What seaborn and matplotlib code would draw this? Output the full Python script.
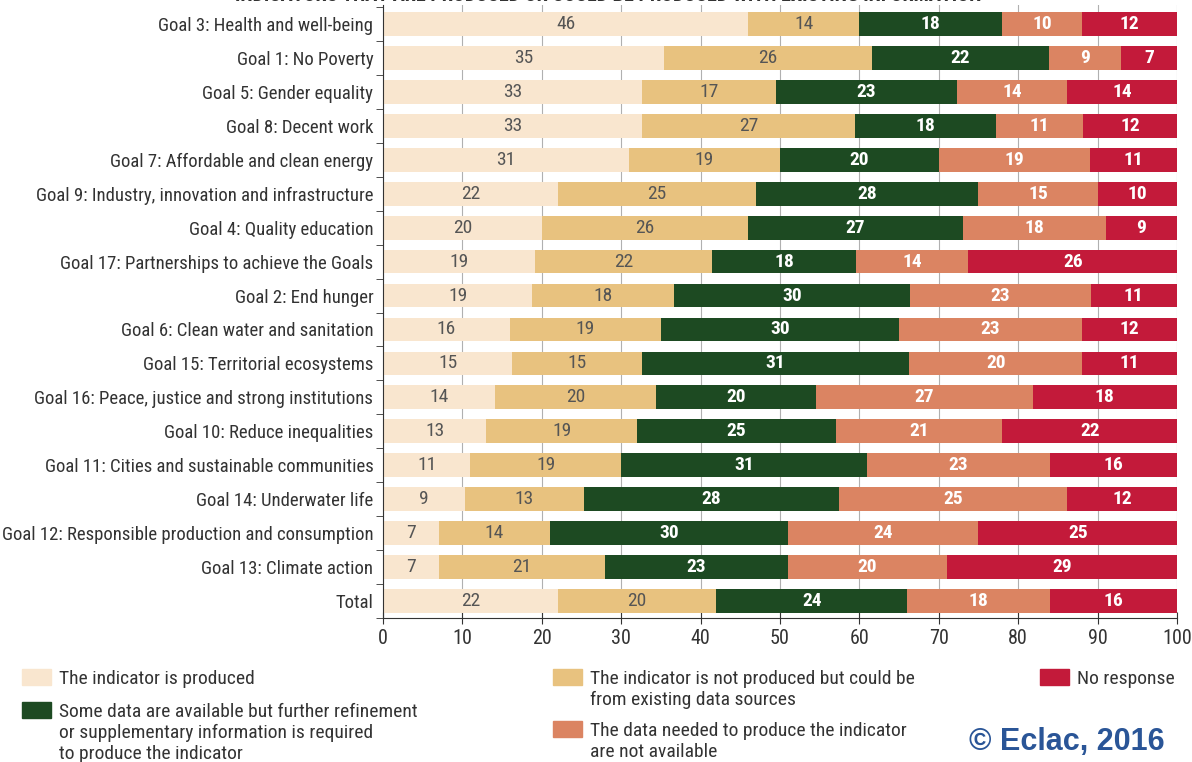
import numpy as np
import pandas as pd
import matplotlib.pyplot as plt
import seaborn as sns
from matplotlib import font_manager as fm

goals = [
    'Goal 3: Health and well-being',
    'Goal 1: No Poverty',
    'Goal 5: Gender equality',
    'Goal 8: Decent work',
    'Goal 7: Affordable and clean energy',
    'Goal 9: Industry, innovation and infrastructure',
    'Goal 4: Quality education',
    'Goal 17: Partnerships to achieve the Goals',
    'Goal 2: End hunger',
    'Goal 6: Clean water and sanitation',
    'Goal 15: Territorial ecosystems',
    'Goal 16: Peace, justice and strong institutions',
    'Goal 10: Reduce inequalities',
    'Goal 11: Cities and sustainable communities',
    'Goal 14: Underwater life',
    'Goal 12: Responsible production and consumption',
    'Goal 13: Climate action',
    'Total',
]
produced = [46, 35, 33, 33, 31, 22, 20, 19, 19, 16, 15, 14, 13, 11, 9, 7, 7, 22]
could_be = [14, 26, 17, 27, 19, 25, 26, 22, 18, 19, 15, 20, 19, 19, 13, 14, 21, 20]
some_data = [18, 22, 23, 18, 20, 28, 27, 18, 30, 30, 31, 20, 25, 31, 28, 30, 23, 24]
not_avail = [10, 9, 14, 11, 19, 15, 18, 14, 23, 23, 20, 27, 21, 23, 25, 24, 20, 18]
no_resp = [12, 7, 14, 12, 11, 10, 9, 26, 11, 12, 11, 18, 22, 16, 12, 25, 29, 16]

series = ['The indicator is produced',
          'The indicator is not produced but could be\nfrom existing data sources',
          'Some data are available but further refinement\nor supplementary information is required\nto produce the indicator',
          'The data needed to produce the indicator\nare not available',
          'No response']
# stacking order left to right
stack = [produced, could_be, some_data, not_avail, no_resp]
colors = ['#f9e6cf', '#e8c27f', '#1d4a22', '#db8462', '#c31a3a']
text_colors = ['#555555', '#555555', 'white', 'white', 'white']

# condensed face if there is one, else plain DejaVu a bit smaller
available = {f.name for f in fm.fontManager.ttflist}
narrow = None
for cand in ['Roboto Condensed', 'Liberation Sans Narrow', 'Archivo Narrow']:
    if cand in available:
        narrow = cand
        break
if narrow:
    plt.rcParams['font.family'] = [narrow, 'DejaVu Sans']
    fs = 13.5
else:
    plt.rcParams['font.family'] = ['DejaVu Sans']
    fs = 10.5

df = pd.DataFrame(np.array(stack).T, index=goals)
pct = df.div(df.sum(axis=1), axis=0) * 100
cum = pct.cumsum(axis=1)

W, H = 1192, 762
fig = plt.figure(figsize=(W / 100, H / 100), dpi=100)
ax = fig.add_axes([0.3213, 0.189, 0.6661, 0.804])

# draw from the longest cumulative layer to the shortest so each one overlays
for k in range(4, -1, -1):
    sns.barplot(x=cum[k].values, y=goals, orient='h', color=colors[k],
                width=0.7, ax=ax, zorder=2, saturation=1)

for i, g in enumerate(goals):
    for k in range(5):
        left = cum[k].iloc[i] - pct[k].iloc[i]
        mid = left + pct[k].iloc[i] / 2
        ax.text(mid, i, str(df[k].iloc[i]), ha='center', va='center',
                color=text_colors[k], fontsize=fs + 0.5,
                fontweight='bold' if k >= 2 else 'normal', zorder=3)

ax.set_xlim(0, 100)
ax.set_ylim(len(goals) - 0.56, -0.55)
ax.set_xticks(range(0, 101, 10))
ax.set_xlabel('')
ax.set_ylabel('')
ax.grid(axis='x', color='#b0b0b0', lw=0.8, zorder=0)
ax.set_axisbelow(True)
for s in ['top', 'right']:
    ax.spines[s].set_visible(False)
ax.spines['left'].set_color('#333333')
ax.spines['bottom'].set_color('#333333')
ax.tick_params(axis='x', direction='inout', length=8, labelsize=fs + 1, colors='#333333', pad=4)
ax.tick_params(axis='y', length=0, labelsize=fs, labelcolor='#333333', pad=7)
ax.set_yticks(np.arange(len(goals) + 1) - 0.5, minor=True)
ax.tick_params(axis='y', which='minor', direction='out', length=5, color='#333333')

# legend laid out by hand: patch next to the first line of each label
leg_pos = [(22, 677), (553, 677), (22, 710), (553, 729), (1040, 677)]
for (px, py), lab, col in zip(leg_pos, series, colors):
    fig.patches.append(plt.Rectangle((px / W, 1 - (py + 8) / H), 29 / W, 16 / H,
                                     color=col, transform=fig.transFigure))
    fig.text((px + 37) / W, 1 - (py - 7) / H, lab, ha='left', va='top',
             fontsize=fs + 0.5, color='#333333', linespacing=1.22)

fig.text(0.51, 1.006, 'INDICATORS THAT ARE PRODUCED OR COULD BE PRODUCED WITH EXISTING INFORMATION',
         ha='center', va='center', fontsize=fs + 1, fontweight='bold', color='#333333')
fig.text(0.977, 0.026, '\u00a9 Eclac, 2016', ha='right', va='center', fontsize=22,
         fontweight='bold', color='#2a5597', family=['Liberation Sans', 'DejaVu Sans'])

fig.savefig('out.png', dpi=100)
